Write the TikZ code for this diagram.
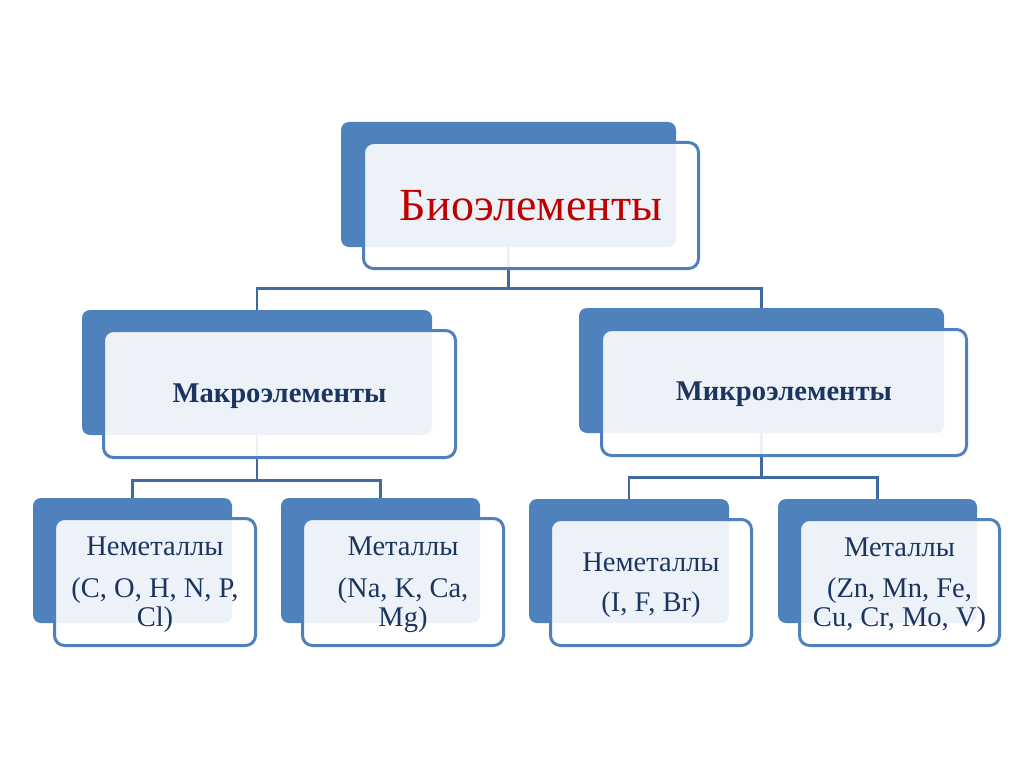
\documentclass[tikz,border=0pt]{standalone}
\usepackage{fontspec}
\setmainfont{Liberation Serif}
\definecolor{boxblue}{HTML}{4F81BD}
\definecolor{linkblue}{HTML}{4169A3}
\definecolor{titlered}{HTML}{C00000}
\definecolor{navy}{HTML}{1B3560}
\begin{document}
\begin{tikzpicture}[x=1pt,y=-1pt,
  backbox/.style={fill=boxblue, draw=none, rounded corners=8pt, inner sep=0pt},
  frontbox/.style={draw=boxblue, line width=3pt, fill=white, fill opacity=0.9,
    rounded corners=10pt, inner sep=0pt},
  link/.style={draw=linkblue, line width=2.6pt},
  label/.style={align=center, text=navy, inner sep=0pt},
  midtext/.style={label, font=\fontsize{28.6}{32}\selectfont\bfseries},
  bodytext/.style={label, font=\fontsize{28.5}{29}\selectfont},
]
\useasboundingbox (0,0) rectangle (1024,767);

% back rectangles
\node[backbox, minimum width=335pt, minimum height=125pt] (topB) at (508.5,184.5) {};
\node[backbox, minimum width=350pt, minimum height=125pt] (mlB) at (257,372.5) {};
\node[backbox, minimum width=365pt, minimum height=125pt] (mrB) at (761.5,370.5) {};
\node[backbox, minimum width=199pt, minimum height=125pt] (blaB) at (132.5,560.5) {};
\node[backbox, minimum width=199pt, minimum height=125pt] (blbB) at (380.5,560.5) {};
\node[backbox, minimum width=200pt, minimum height=124pt] (braB) at (629,561) {};
\node[backbox, minimum width=199pt, minimum height=124pt] (brbB) at (877.5,561) {};

% connectors
\draw[link] (topB.south) -- ++(0,41) coordinate (j1);
\draw[link] (j1) -| (mlB.north);
\draw[link] (j1) -| (mrB.north);
\draw[link] (mlB.south) -- ++(0,45) coordinate (j2);
\draw[link] (j2) -| (blaB.north);
\draw[link] (j2) -| (blbB.north);
\draw[link] (mrB.south) -- ++(0,44) coordinate (j3);
\draw[link] (j3) -| (braB.north);
\draw[link] (j3) -| (brbB.north);

% front boxes
\node[frontbox, minimum width=335pt, minimum height=126pt] (top) at (531,205.5) {};
\node[frontbox, minimum width=352pt, minimum height=127pt] (ml) at (279.5,394) {};
\node[frontbox, minimum width=365pt, minimum height=126pt] (mr) at (784,392.5) {};
\node[frontbox, minimum width=201pt, minimum height=127pt] (bla) at (155,582) {};
\node[frontbox, minimum width=201pt, minimum height=127pt] (blb) at (403,582) {};
\node[frontbox, minimum width=201pt, minimum height=126pt] (bra) at (651,582.5) {};
\node[frontbox, minimum width=200pt, minimum height=126pt] (brb) at (899.5,582.5) {};

% texts
\node[label, text=titlered, font=\fontsize{46}{50}\selectfont] (topT) at (top.center) {Биоэлементы};
\node[midtext] (mlT) at ([yshift=-2pt]ml.center) {Макроэлементы};
\node[midtext] (mrT) at ([yshift=-2pt]mr.center) {Микроэлементы};
\node[bodytext] (blaT) at ([yshift=-3pt]bla.center) {Неметаллы\\[13pt](C, O, H, N, P,\\Cl)};
\node[bodytext] (blbT) at ([yshift=-3pt]blb.center) {Металлы\\[13pt](Na, K, Ca,\\Mg)};
\node[bodytext] (braT) at ([yshift=-3pt]bra.center) {Неметаллы\\[11pt](I, F, Br)};
\node[bodytext] (brbT) at ([yshift=-3pt]brb.center) {Металлы\\[12pt](Zn, Mn, Fe,\\Cu, Cr, Mo, V)};
\end{tikzpicture}
\end{document}
